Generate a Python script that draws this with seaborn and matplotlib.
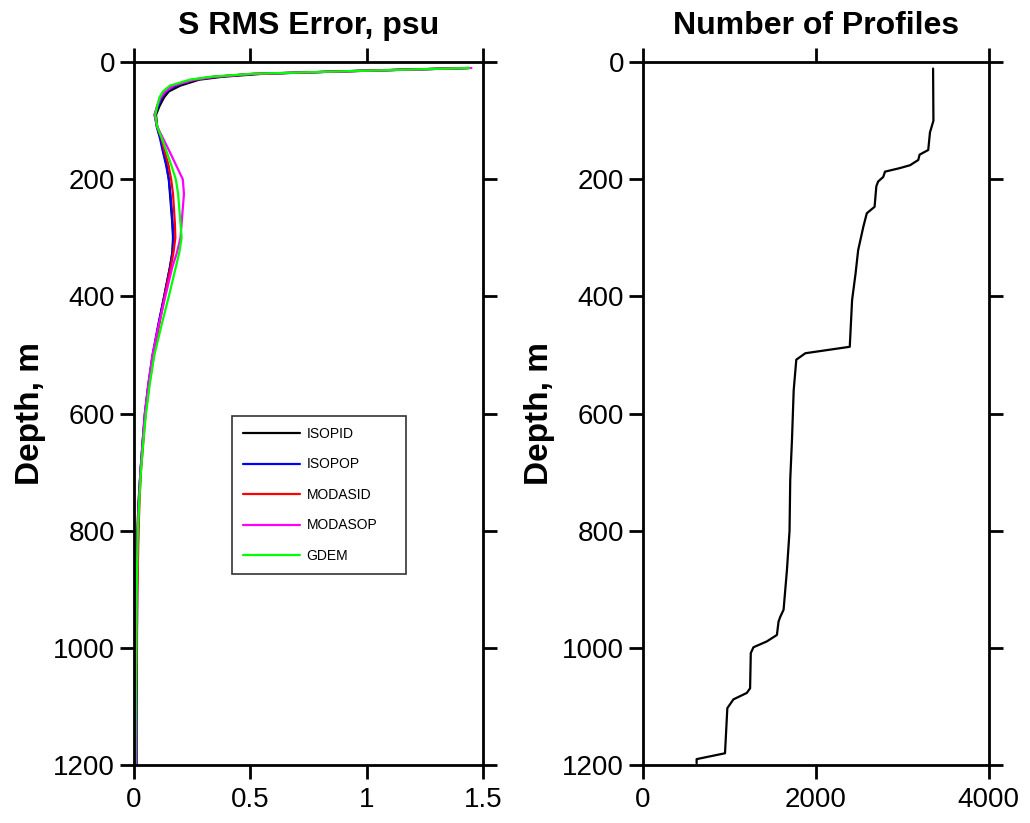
import numpy as np
import pandas as pd
import matplotlib
matplotlib.use("Agg")
import matplotlib.pyplot as plt
import seaborn as sns

# depth levels for the RMS error profiles (m)
depth = [10, 15, 20, 25, 30, 40, 50, 60, 75, 90, 110, 130, 150, 175, 200, 225, 250,
         275, 300, 325, 350, 400, 450, 500, 550, 600, 650, 700, 750, 800, 900,
         1000, 1100, 1200]

isopid = [1.43, 0.95, 0.55, 0.38, 0.28, 0.20, 0.15, 0.13, 0.11, 0.095, 0.10, 0.115,
          0.125, 0.14, 0.15, 0.155, 0.16, 0.165, 0.168, 0.165, 0.155, 0.13, 0.105,
          0.082, 0.063, 0.048, 0.038, 0.028, 0.02, 0.015, 0.01, 0.008, 0.006, 0.005]
isopop = [1.44, 0.97, 0.52, 0.35, 0.26, 0.18, 0.14, 0.12, 0.105, 0.09, 0.098, 0.112,
          0.123, 0.138, 0.15, 0.157, 0.162, 0.166, 0.17, 0.166, 0.155, 0.13, 0.104,
          0.08, 0.062, 0.047, 0.037, 0.028, 0.022, 0.018, 0.014, 0.013, 0.012, 0.012]
modasid = [1.44, 0.96, 0.51, 0.34, 0.25, 0.17, 0.135, 0.115, 0.10, 0.09, 0.10, 0.118,
           0.13, 0.148, 0.16, 0.168, 0.172, 0.176, 0.178, 0.17, 0.158, 0.132, 0.108,
           0.085, 0.066, 0.05, 0.04, 0.03, 0.024, 0.02, 0.015, 0.012, 0.01, 0.009]
modasop = [1.45, 0.98, 0.52, 0.35, 0.26, 0.17, 0.135, 0.115, 0.10, 0.088, 0.10, 0.125,
           0.15, 0.18, 0.21, 0.215, 0.21, 0.205, 0.2, 0.185, 0.165, 0.135, 0.106,
           0.08, 0.062, 0.047, 0.037, 0.028, 0.021, 0.016, 0.012, 0.01, 0.008, 0.007]
gdem = [1.44, 0.96, 0.50, 0.33, 0.24, 0.155, 0.125, 0.11, 0.10, 0.092, 0.10, 0.12,
        0.138, 0.16, 0.18, 0.19, 0.195, 0.2, 0.205, 0.195, 0.18, 0.15, 0.118,
        0.088, 0.068, 0.052, 0.04, 0.03, 0.023, 0.017, 0.012, 0.01, 0.008, 0.006]

# number of profiles against depth
prof_depth = [11, 100, 120, 150, 158, 167, 176, 181, 187, 196, 204, 212, 247, 258,
              281, 321, 361, 406, 486, 497, 508, 560, 645, 713, 800, 867, 935, 947,
              955, 978, 989, 999, 1009, 1069, 1077, 1088, 1103, 1180, 1190, 1197]
prof_count = [3356, 3360, 3320, 3300, 3200, 3185, 3090, 2970, 2800, 2780, 2720, 2700,
              2680, 2590, 2550, 2490, 2460, 2420, 2393, 1880, 1775, 1745, 1725, 1705,
              1697, 1667, 1628, 1590, 1570, 1551, 1435, 1280, 1249, 1241, 1203, 1048,
              978, 951, 623, 623]

models = ["ISOPID", "ISOPOP", "MODASID", "MODASOP", "GDEM"]
colors = {"ISOPID": "black", "ISOPOP": "blue", "MODASID": "red",
          "MODASOP": "magenta", "GDEM": "#00ff00"}

rms = pd.concat([
    pd.DataFrame({"depth": depth, "rms": vals, "model": name})
    for name, vals in zip(models, [isopid, isopop, modasid, modasop, gdem])
])
prof = pd.DataFrame({"depth": prof_depth, "count": prof_count})

sns.set_style("ticks")
plt.rcParams['font.family'] = ['Liberation Sans', 'DejaVu Sans']
plt.rcParams['text.color'] = 'black'
plt.rcParams['xtick.color'] = 'black'
plt.rcParams['ytick.color'] = 'black'
plt.rcParams['axes.labelcolor'] = 'black'

fig = plt.figure(figsize=(10.3, 8.23), dpi=100)
ax1 = fig.add_axes([0.130, 0.0705, 0.339, 0.854])
ax2 = fig.add_axes([0.624, 0.0705, 0.336, 0.854])

sns.lineplot(data=rms, x="rms", y="depth", hue="model", palette=colors,
             sort=False, estimator=None, linewidth=1.6, ax=ax1)
sns.lineplot(data=prof, x="count", y="depth", color="black",
             sort=False, estimator=None, linewidth=1.6, ax=ax2)

ax1.set_xlim(0, 1.5)
ax1.set_xticks([0, 0.5, 1, 1.5])
ax1.set_xticklabels(["0", "0.5", "1", "1.5"])
ax2.set_xlim(0, 4000)
ax2.set_xticks([0, 2000, 4000])

for ax, title in [(ax1, "S RMS Error, psu"), (ax2, "Number of Profiles")]:
    ax.set_ylim(1200, 0)
    ax.set_yticks([0, 200, 400, 600, 800, 1000, 1200])
    ax.set_xlabel("")
    ax.set_ylabel("Depth, m", fontsize=24, fontweight="bold", labelpad=5)
    ax.set_title(title, fontsize=23, fontweight="bold", pad=20)
    ax.tick_params(top=True, right=True, direction="out", length=10, width=2,
                   labelsize=20)
    ax.tick_params(axis="x", pad=6)
    for sp in ax.spines.values():
        sp.set_linewidth(2)
        sp.set_color("black")

leg = ax1.legend(loc="lower left", bbox_to_anchor=(0.281, 0.272, 0.498, 0.223),
                 mode="expand", borderaxespad=0, fontsize=10, handlelength=4.1,
                 handletextpad=0.5, labelspacing=1.19, borderpad=0.78,
                 frameon=True, fancybox=False, title=None)
leg.get_frame().set_edgecolor("black")
leg.get_frame().set_linewidth(1.2)
for line in leg.get_lines():
    line.set_linewidth(1.6)

fig.savefig("out.png", dpi=100, facecolor="white")
